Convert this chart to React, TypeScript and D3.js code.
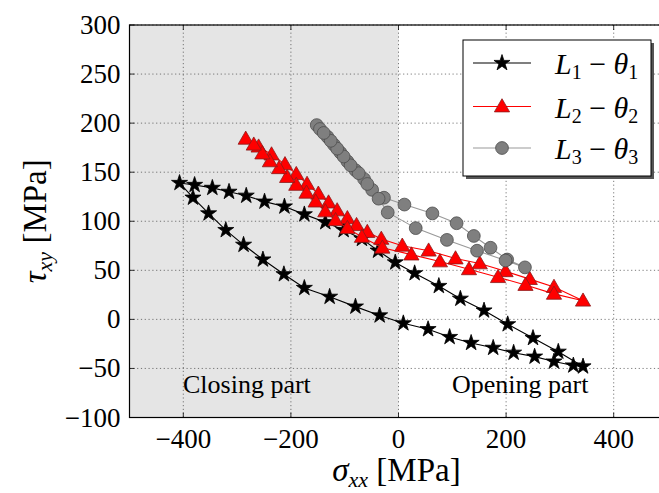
import React from "react";
import * as d3 from "d3";

// ---------- data ----------
const xTicks = [-400, -200, 0, 200, 400];
const yTicks = [-100, -50, 0, 50, 100, 150, 200, 250, 300];
const xDomain = [-500, 500];
const yDomain = [-100, 300];

// L1 - theta1 : closed loop (upper branch, then lower branch back)
const series1: [number, number][] = [
  [-407, 139], [-379, 137], [-346, 134], [-315, 130], [-283, 126], [-249, 120],
  [-212, 115], [-175, 107], [-136, 99], [-102, 91], [-68, 82], [-38, 70],
  [-6, 58], [30, 47], [75, 34], [115, 21], [159, 9], [203, -5], [250, -19],
  [297, -33], [343, -48],
  [325, -47], [289, -43], [253, -38], [214, -34], [176, -29], [135, -24],
  [95, -18], [55, -10], [9, -4], [-35, 4], [-80, 13], [-128, 23], [-175, 32],
  [-213, 46], [-252, 61], [-288, 76], [-321, 91], [-353, 108], [-382, 124],
  [-407, 139],
];

// L2 - theta2 : upper branch then lower branch back
const series2: [number, number][] = [
  [-284, 184], [-260, 176], [-236, 168], [-211, 158], [-190, 148], [-170, 138],
  [-149, 128], [-130, 119], [-114, 111], [-95, 103], [-78, 96], [-58, 89],
  [-32, 82], [7, 75], [56, 70], [106, 62], [151, 57], [199, 49], [244, 41],
  [289, 33], [343, 19],
  [289, 26], [236, 35], [185, 43], [131, 51], [77, 59], [24, 66], [-30, 73],
  [-68, 84], [-95, 93], [-117, 101], [-136, 110], [-154, 120], [-171, 129],
  [-190, 137], [-207, 145], [-222, 154], [-239, 161], [-253, 169], [-269, 178],
  [-284, 184],
];

// L3 - theta3 : upper branch then lower branch back
const series3: [number, number][] = [
  [-152, 198], [-146, 194], [-132, 186], [-120, 178], [-108, 170], [-95, 161],
  [-80, 152], [-64, 143], [-49, 132], [-27, 124], [11, 117], [63, 108],
  [108, 98], [140, 85], [171, 73], [202, 61], [235, 53],
  [199, 60], [146, 70], [90, 81], [32, 93], [-20, 109], [-37, 123], [-58, 138],
  [-74, 149], [-89, 157], [-102, 166], [-114, 174], [-126, 182], [-139, 190],
  [-152, 198],
];

const legendLabels = ["1", "2", "3"];

// ---------- layout ----------
const W = 659;
const H = 493;
const left = 129.5;
const right = 667.5;
const top = 25;
const bottom = 417.5;

const FONT = "'Liberation Serif', 'DejaVu Serif', serif";

export default function App() {
  const x = d3.scaleLinear().domain(xDomain).range([left, right]);
  const y = d3.scaleLinear().domain(yDomain).range([bottom, top]);
  const line = d3
    .line<[number, number]>()
    .x((d) => x(d[0]))
    .y((d) => y(d[1]));

  const star = d3.symbol().type(d3.symbolStar).size(80)()!;
  const tri = d3.symbol().type(d3.symbolTriangle).size(100)()!;

  const series = [
    { data: series1, color: "#000000", kind: "star" },
    { data: series2, color: "#ff0000", kind: "tri" },
    { data: series3, color: "#999999", kind: "circle" },
  ];

  const marker = (kind: string, cx: number, cy: number, key: any) => {
    if (kind === "star")
      return (
        <path key={key} d={star} transform={`translate(${cx},${cy})`} fill="#000" stroke="#000" strokeWidth={0.8} />
      );
    if (kind === "tri")
      return (
        <path key={key} d={tri} transform={`translate(${cx},${cy + 1})`} fill="#ff0000" stroke="#8b1a1a" strokeWidth={0.8} />
      );
    return <circle key={key} cx={cx} cy={cy} r={6.4} fill="#7f7f7f" stroke="#4d4d4d" strokeWidth={0.8} />;
  };

  const legX = 463;
  const legY = 40;
  const legW = 188;
  const legH = 136;
  const legRows = [63, 106.5, 148];

  return (
    <svg
      width={W}
      height={H}
      style={{ position: "absolute", left: 0, top: 0, display: "block", background: "#fff" }}
    >
      <defs>
        <clipPath id="plotclip">
          <rect x={left} y={top} width={right - left} height={bottom - top} />
        </clipPath>
      </defs>
      {/* closing part shading */}
      <rect x={x(-500)} y={top} width={x(0) - x(-500)} height={bottom - top} fill="#e5e5e5" />

      {/* grid */}
      {xTicks.map((t) => (
        <line key={"gx" + t} x1={x(t)} x2={x(t)} y1={top} y2={bottom} stroke="#444" strokeWidth={0.7} strokeDasharray="1.2,2.6" />
      ))}
      {yTicks.map((t) => (
        <line key={"gy" + t} x1={left} x2={right} y1={y(t)} y2={y(t)} stroke="#444" strokeWidth={0.7} strokeDasharray="1.2,2.6" />
      ))}

      {/* region labels */}
      <text x={183} y={393} fontFamily={FONT} fontSize={26}>Closing part</text>
      <text x={452} y={393} fontFamily={FONT} fontSize={26}>Opening part</text>

      {/* series */}
      <g clipPath="url(#plotclip)">
        {series.map((s, i) => (
          <g key={"s" + i}>
            <path d={line(s.data)!} fill="none" stroke={s.color} strokeWidth={1.1} />
            {s.data.slice(0, s.data.length - 1).map((d, j) => marker(s.kind, x(d[0]), y(d[1]), j))}
          </g>
        ))}
      </g>

      {/* spines */}
      <rect x={left} y={top} width={right - left} height={bottom - top} fill="none" stroke="#000" strokeWidth={1.2} />

      {/* ticks */}
      {xTicks.map((t) => (
        <g key={"tx" + t}>
          <line x1={x(t)} x2={x(t)} y1={bottom} y2={bottom - 5} stroke="#000" strokeWidth={0.8} />
          <line x1={x(t)} x2={x(t)} y1={top} y2={top + 5} stroke="#000" strokeWidth={0.8} />
          <text x={x(t)} y={bottom + 30} textAnchor="middle" fontFamily={FONT} fontSize={27}>
            {t < 0 ? "\u2212" + Math.abs(t) : t}
          </text>
        </g>
      ))}
      {yTicks.map((t) => (
        <g key={"ty" + t}>
          <line x1={left} x2={left + 5} y1={y(t)} y2={y(t)} stroke="#000" strokeWidth={0.8} />
          <text x={left - 9} y={y(t) + 9} textAnchor="end" fontFamily={FONT} fontSize={27}>
            {t < 0 ? "\u2212" + Math.abs(t) : t}
          </text>
        </g>
      ))}

      {/* axis labels */}
      <text x={(left + right) / 2 - 2} y={481} textAnchor="middle" fontFamily={FONT} fontSize={33}>
        <tspan fontStyle="italic">σ</tspan>
        <tspan fontStyle="italic" fontSize={22} dy={6}>xx</tspan>
        <tspan dy={-6}>{" [MPa]"}</tspan>
      </text>
      <text
        transform={`translate(46,${(top + bottom) / 2}) rotate(-90)`}
        textAnchor="middle"
        fontFamily={FONT}
        fontSize={33}
      >
        <tspan fontStyle="italic">τ</tspan>
        <tspan fontStyle="italic" fontSize={22} dy={6}>xy</tspan>
        <tspan dy={-6}>{" [MPa]"}</tspan>
      </text>

      {/* legend */}
      <rect x={legX + 3} y={legY + 3} width={legW} height={legH} fill="#555" />
      <rect x={legX} y={legY} width={legW} height={legH} fill="#fff" stroke="#000" strokeWidth={1} />
      {series.map((s, i) => (
        <g key={"lg" + i}>
          <line x1={473} x2={531} y1={legRows[i]} y2={legRows[i]} stroke={s.color} strokeWidth={1.1} />
          {marker(s.kind, 502, legRows[i], "m" + i)}
          <text x={555} y={legRows[i] + 11} fontFamily={FONT} fontSize={30}>
            <tspan fontStyle="italic">L</tspan>
            <tspan fontSize={20} dy={5}>{legendLabels[i]}</tspan>
            <tspan dy={-5}>{" \u2212 "}</tspan>
            <tspan fontStyle="italic">θ</tspan>
            <tspan fontSize={20} dy={5}>{legendLabels[i]}</tspan>
          </text>
        </g>
      ))}
    </svg>
  );
}
